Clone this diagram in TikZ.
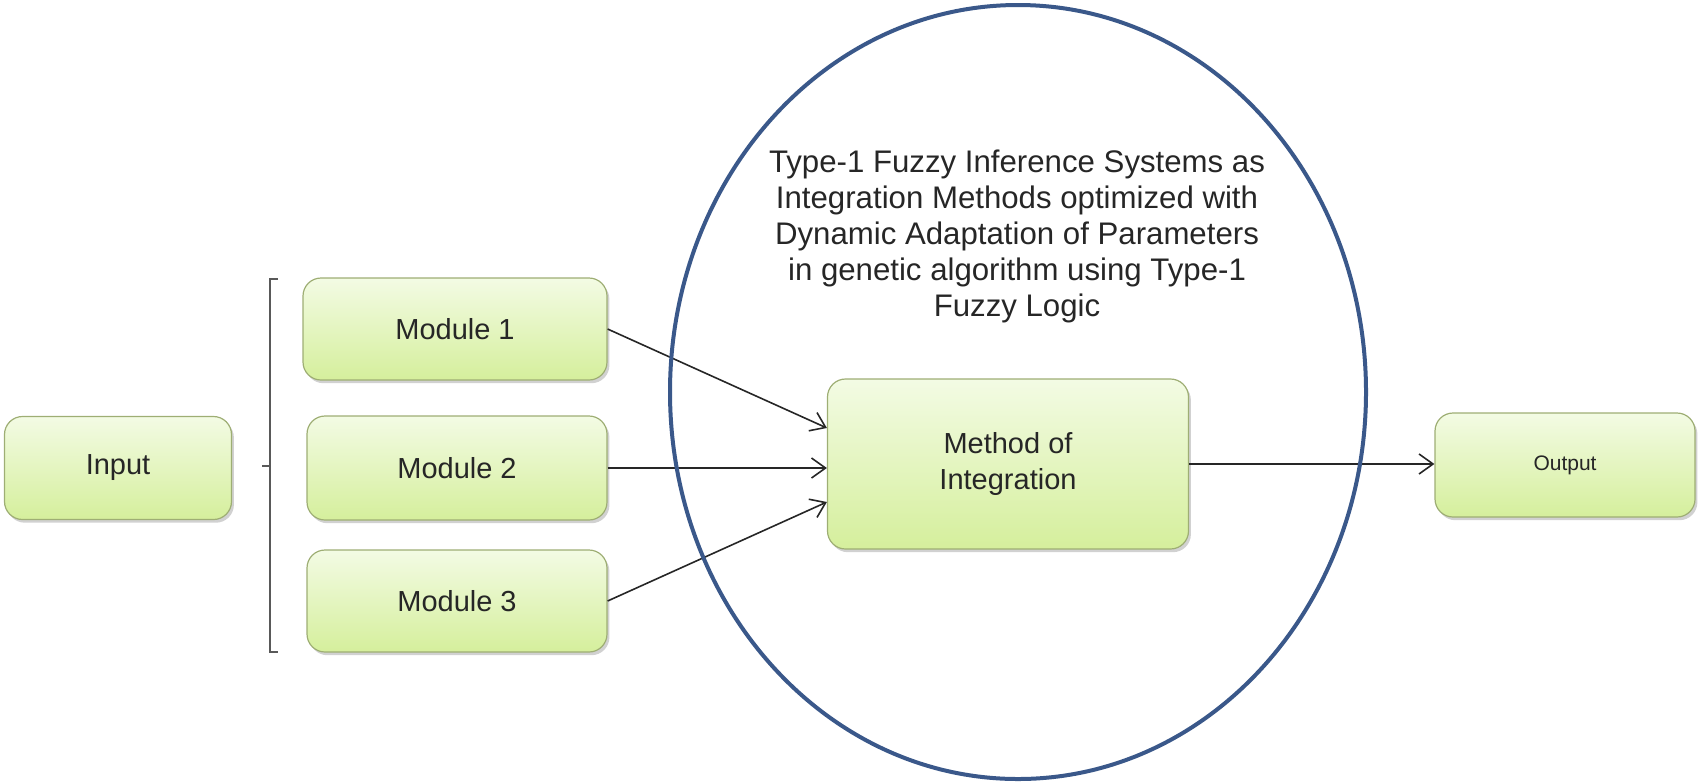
\documentclass[tikz,border=0pt]{standalone}
\usepackage{fontspec}
\setmainfont{Liberation Sans}
\usepackage{xcolor}
\usetikzlibrary{
    arrows.meta,
    shapes,
    positioning,
    shadows,
    calc
}

\definecolor{boxtop}{RGB}{243,251,228}
\definecolor{boxbottom}{RGB}{213,239,156}
\definecolor{boxline}{RGB}{158,174,116}
\definecolor{ringblue}{RGB}{58,88,138}

\begin{document}
\begin{tikzpicture}[x=0.5pt, y=-0.5pt,
        box/.style={draw=boxline, line width=0.6pt, rounded corners=9pt,
            top color=boxtop, bottom color=boxbottom, inner sep=0pt,
            align=center, text=black!85, font=\fontsize{14.5}{18}\selectfont,
            drop shadow={shadow xshift=1.2pt, shadow yshift=-1.6pt, opacity=0.3, fill=black!60}},
        arr/.style={-{Straight Barb[length=7pt, width=10pt]}, line width=0.8pt, black!85}]
                \useasboundingbox (0,0) rectangle (1700,783);
                % boxes
                \node[box, minimum width=113.5pt, minimum height=51.5pt] (input) at (118,468) {Input};
                \node[box, minimum width=152pt, minimum height=51pt] (mod1) at (455,329) {Module 1};
                \node[box, minimum width=150pt, minimum height=52pt] (mod2) at (457,468) {Module 2};
                \node[box, minimum width=150pt, minimum height=51pt] (mod3) at (457,601) {Module 3};
                \node[box, minimum width=180.5pt, minimum height=85pt] (integ) at (1008,464) {Method of\\Integration};
                \node[box, minimum width=130pt, minimum height=52pt, font=\fontsize{10.5}{12}\selectfont] (output) at (1565,465) {Output};
                \node[align=center, text=black!85, font=\fontsize{15.6}{18}\selectfont] (title) at (1017,236)
                    {Type-1 Fuzzy Inference Systems as\\Integration Methods optimized with\\Dynamic Adaptation of Parameters\\in genetic algorithm using Type-1\\Fuzzy Logic};
                % bracket
                \draw[black!65, line width=1pt] (278,279) -- (270,279) -- (270,652) -- (278,652);
                \draw[black!65, line width=1pt] (262,466) -- (270,466);
                % arrows
                \draw[arr] (mod1.east) -- ([yshift=18pt]integ.west);
                \draw[arr] (mod2.east) -- (mod2.east -| integ.west);
                \draw[arr] (mod3.east) -- ([yshift=-19pt]integ.west);
                \draw[arr] (integ.east) -- (integ.east -| output.west);
                % ring
                \draw[ringblue, line width=2pt] (1018,392) ellipse [x radius=174pt, y radius=193.5pt];
            \end{tikzpicture}
\end{document}
